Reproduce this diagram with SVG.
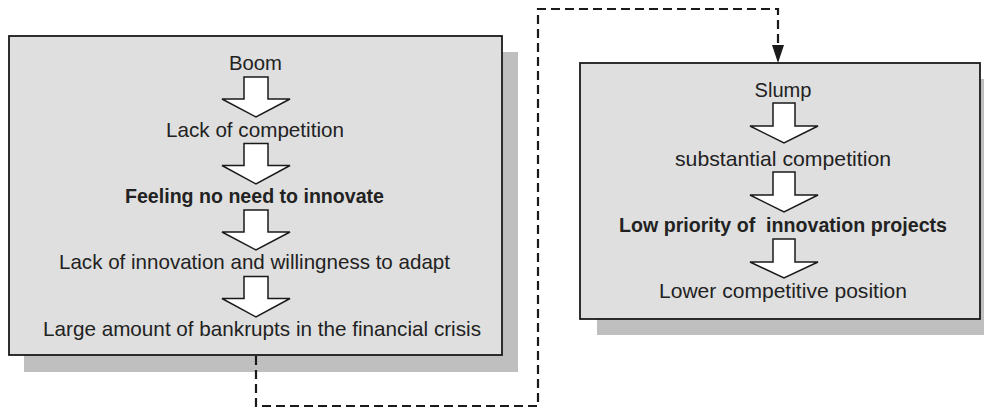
<svg xmlns="http://www.w3.org/2000/svg" width="984" height="411" viewBox="0 0 984 411">
<defs>
<style>
.shadow{fill:#bfbfbf;stroke:none}
.box{fill:#dfdfdf;stroke:#1a1a1a;stroke-width:1.8}
.blk{fill:#ffffff;stroke:#1a1a1a;stroke-width:1.5;stroke-linejoin:miter}
.t{font-family:"Liberation Sans",Arial,sans-serif;font-size:21px;fill:#222;text-anchor:middle}
.b{font-weight:bold}
.dash{fill:none;stroke:#1a1a1a;stroke-width:2.2;stroke-dasharray:9 5}
</style>
</defs>
<rect width="984" height="411" fill="#ffffff"/>

<g id="boom-box">
<rect class="shadow" x="24" y="52" width="494" height="320"/>
<rect class="box" x="9" y="36" width="493" height="319"/>
<text class="t" x="255.5" y="70" textLength="53" lengthAdjust="spacingAndGlyphs">Boom</text>
<path class="blk" d="M244,77 H268 V99 H290 L256,117 L222,99 H244 Z"/>
<text class="t" x="255" y="137" textLength="178" lengthAdjust="spacingAndGlyphs">Lack of competition</text>
<path class="blk" d="M244,143.5 H268 V165.5 H290 L256,184 L222,165.5 H244 Z"/>
<text class="t b" x="254.5" y="203" textLength="259" lengthAdjust="spacingAndGlyphs">Feeling no need to innovate</text>
<path class="blk" d="M244,210 H268 V232 H290 L256,250 L222,232 H244 Z"/>
<text class="t" x="254.5" y="269" textLength="391" lengthAdjust="spacingAndGlyphs">Lack of innovation and willingness to adapt</text>
<path class="blk" d="M244,276.5 H268 V298.5 H290 L256,317 L222,298.5 H244 Z"/>
<text class="t" x="262" y="336" textLength="438" lengthAdjust="spacingAndGlyphs">Large amount of bankrupts in the financial crisis</text>
</g>

<g id="slump-box">
<rect class="shadow" x="597" y="79" width="400" height="256"/>
<rect class="box" x="580" y="63" width="400" height="256"/>
<text class="t" x="783" y="97" textLength="57" lengthAdjust="spacingAndGlyphs">Slump</text>
<path class="blk" d="M773,103 H795 V126 H818 L784,143 L750,126 H773 Z"/>
<text class="t" x="783" y="166" textLength="216" lengthAdjust="spacingAndGlyphs">substantial competition</text>
<path class="blk" d="M773,172 H795 V195 H818 L784,212 L750,195 H773 Z"/>
<text class="t b" x="783" y="232" textLength="328" lengthAdjust="spacingAndGlyphs" style="white-space:pre">Low priority of  innovation projects</text>
<path class="blk" d="M773,239 H795 V262 H818 L784,278 L750,262 H773 Z"/>
<text class="t" x="783" y="298" textLength="248" lengthAdjust="spacingAndGlyphs">Lower competitive position</text>
</g>

<g id="connectors">
<path class="dash" d="M256,356 V406 H538 V9 H778 V46"/>
<path d="M772,45 L784,45 L778,63 Z" fill="#1a1a1a"/>
</g>
</svg>
